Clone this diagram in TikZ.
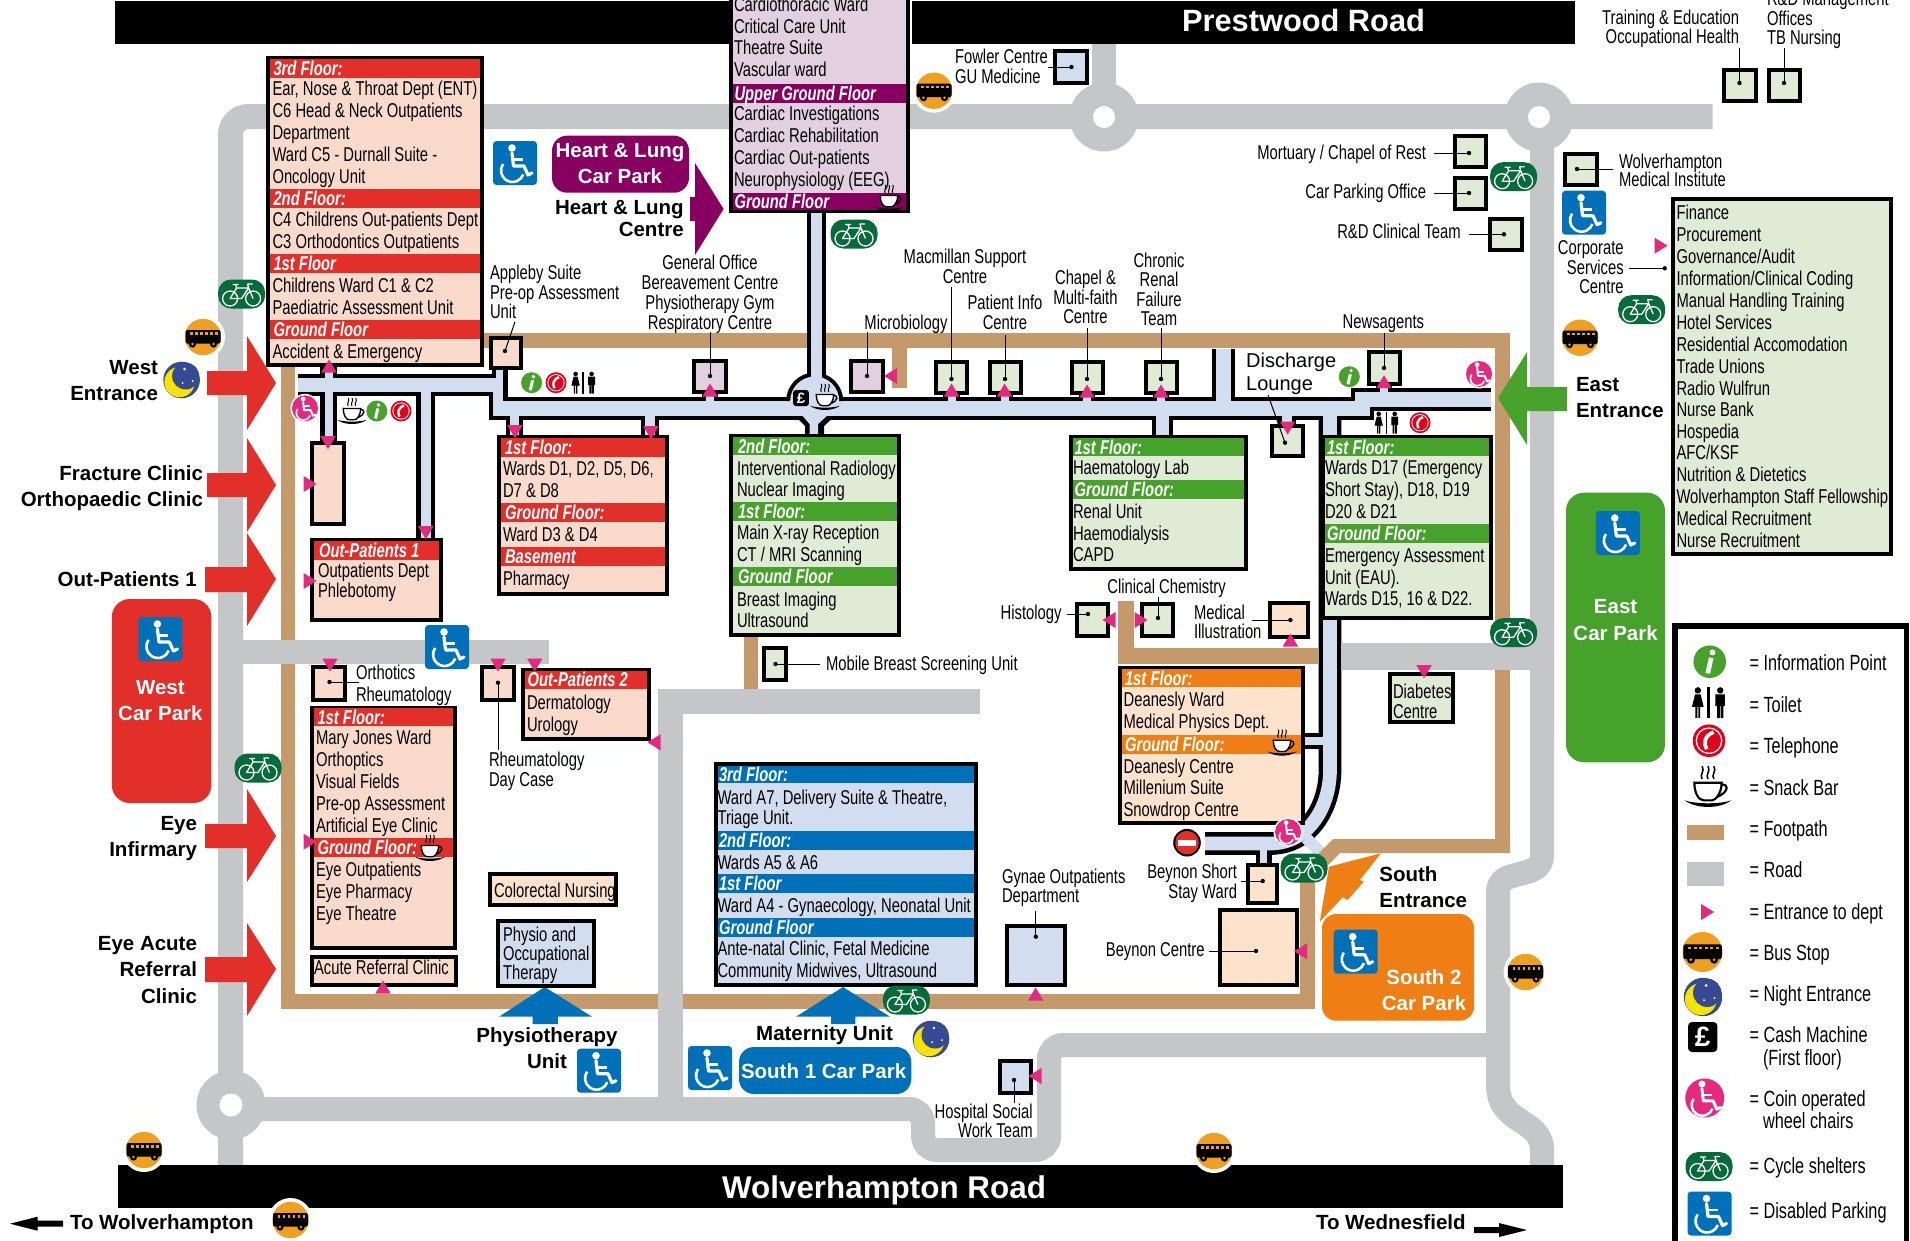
\documentclass[tikz,border=0pt]{standalone}
\usepackage{fontspec}
\setmainfont{Liberation Sans}
\newfontfamily\narrow[FakeStretch=0.74]{Liberation Sans}
\definecolor{roadc}{HTML}{C4C6C8}
\definecolor{tanc}{HTML}{C49A6C}
\definecolor{corrc}{HTML}{D2DDF0}
\definecolor{pinkbg}{HTML}{F9DACB}
\definecolor{orgbg}{HTML}{FEE3CC}
\definecolor{grnbg}{HTML}{E0EBD5}
\definecolor{purbg}{HTML}{E2CFE0}
\definecolor{redc}{HTML}{E32F2A}
\definecolor{grnc}{HTML}{46A22B}
\definecolor{purc}{HTML}{870060}
\definecolor{bluc}{HTML}{0071B9}
\definecolor{orgc}{HTML}{EF7F14}
\definecolor{bikec}{HTML}{056B38}
\definecolor{busc}{HTML}{F0A020}
\definecolor{magc}{HTML}{E5297F}
\definecolor{moonc}{HTML}{364A94}
\definecolor{moony}{HTML}{F7E300}
\definecolor{phonec}{HTML}{E3001B}
\newcounter{nd}
\tikzset{
 txt/.style={inner sep=0pt,outer sep=0pt,font=\narrow\fontsize{20}{22}\selectfont},
 legtxt/.style={inner sep=0pt,outer sep=0pt,font=\narrow\fontsize{22}{24}\selectfont},
 bandtxt/.style={inner sep=0pt,outer sep=0pt,text=white,font=\narrow\bfseries\itshape\fontsize{20}{22}\selectfont},
 boldtxt/.style={inner sep=0pt,outer sep=0pt,font=\bfseries\fontsize{20.5}{23}\selectfont},
 leaderline/.style={black,line width=1pt},
 trik/.style={fill=magc,draw=none}
}
% text helpers: anchor, x, y of line centre, text
\newcommand{\lb}[4]{\stepcounter{nd}\node[txt,anchor=#1] (n\arabic{nd}) at (#2,{#3+6.6}) {#4};}
\newcommand{\lgn}[3]{\stepcounter{nd}\node[legtxt,anchor=base west] (n\arabic{nd}) at (#1,{#2+7.5}) {#3};}
\newcommand{\bb}[5][black]{\stepcounter{nd}\node[boldtxt,text=#1,anchor=#2] (n\arabic{nd}) at (#3,{#4+7.4}) {#5};}
% department box: x1 y1 x2 y2 fill
\newcommand{\dept}[5]{\def\bxa{#1}\def\bxb{#3}\draw[black,line width=4pt,fill=#5] ({#1+2},{#2+2}) rectangle ({#3-2},{#4-2});}
% band: y1 y2 colour textx text
\newcommand{\band}[5]{\fill[#3] ({\bxa+4},#1) rectangle ({\bxb-4},#2);\stepcounter{nd}\node[bandtxt,anchor=base west] (n\arabic{nd}) at (#4,{(#1+#2)/2+7}) {#5};}
% small box with leader: name x1 y1 x2 y2 fill dotx doty endx endy
\newcommand{\smb}[5]{\draw[black,line width=4pt,fill=#5] ({#1+2},{#2+2}) rectangle ({#3-2},{#4-2});}
\newcommand{\ldr}[5]{\coordinate (#1-d) at (#2,#3);\coordinate (#1-e) at (#4,#5);\draw[leaderline] (#1-d) -- (#1-e);\fill[black] (#1-d) circle[radius=2.2];}
% triangles
\newcommand{\tup}[2]{\fill[trik] ({#1-7.7},{#2+6.5}) -- ({#1+7.7},{#2+6.5}) -- (#1,{#2-6.5}) -- cycle;}
\newcommand{\tdn}[2]{\fill[trik] ({#1-7.7},{#2-6.5}) -- ({#1+7.7},{#2-6.5}) -- (#1,{#2+6.5}) -- cycle;}
\newcommand{\trt}[2]{\fill[trik] ({#1-6.5},{#2-8}) -- ({#1-6.5},{#2+8}) -- ({#1+6.5},#2) -- cycle;}
\newcommand{\tlf}[2]{\fill[trik] ({#1+6.5},{#2-8}) -- ({#1+6.5},{#2+8}) -- ({#1-6.5},#2) -- cycle;}
% wheelchair glyph x y s colour
\newcommand{\wcg}[4]{\begin{scope}[shift={(#1,#2)},scale=#3]
 \fill[#4] (-3,-15) circle[radius=3.8];
 \draw[#4,line width=#3*3.2pt,line join=round,line cap=round] (-3,-10) -- (-1.5,3) -- (9,3) -- (13,12) -- (17,10);
 \draw[#4,line width=#3*2.6pt] (-2,-3.5) -- (8,-3.5);
 \draw[#4,line width=#3*2.6pt] (-2.5,7.5) ++(215:11.5) arc[start angle=215,end angle=20,radius=11.5];
\end{scope}}
\newcommand{\icwc}[3]{\begin{scope}[shift={(#1,#2)},scale=#3]
 \fill[bluc,rounded corners=#3*3.5pt] (-22,-22) rectangle (22,22);
\end{scope}\wcg{#1}{#2}{#3}{white}}
\newcommand{\iccoin}[3]{\begin{scope}[shift={(#1,#2)},scale=#3]
 \fill[white] (0,0) circle[radius=14.5];\fill[magc] (0,0) circle[radius=13];
\end{scope}\wcg{#1}{#2}{#3*0.62}{white}}
\newcommand{\icbike}[3]{\begin{scope}[shift={(#1,#2)},scale=#3]
 \fill[bikec,rounded corners=#3*13pt] (-23.5,-14.5) rectangle (23.5,14.5);
 \draw[white,line width=#3*1.3pt] (-11.5,4.5) circle[radius=7.5] (11.5,4.5) circle[radius=7.5];
 \draw[white,line width=#3*1.3pt,line join=round] (-11.5,4.5) -- (-5,-6) -- (7,-6) -- (0,4.5) -- cycle (7,-6) -- (11.5,4.5) (-5,-6) -- (-6,-9.5) (-9,-9.5) -- (-3,-9.5) (7,-6) -- (6,-10) -- (11,-10);
\end{scope}}
\newcommand{\icbus}[3]{\begin{scope}[shift={(#1,#2)},scale=#3]
 \fill[white] (0,0) circle[radius=22];
 \fill[busc] (0,0) circle[radius=18.2];
 \fill[black,rounded corners=#3*2pt] (-17.5,-7) rectangle (17.5,6.5);
 \foreach \wx in {-13,-8,-3,2,7,12}{\fill[busc] (\wx,-5) rectangle ++(2.8,2.6);}
 \fill[black] (-10.5,7) circle[radius=3.6] (10.5,7) circle[radius=3.6];
 \fill[busc] (-10.5,7) circle[radius=1.4] (10.5,7) circle[radius=1.4];
\end{scope}}
\newcommand{\icmoon}[3]{\begin{scope}[shift={(#1,#2)},scale=#3]
 \fill[moonc] (0,0) circle[radius=18.3];
 \fill[moony] (-2,2) circle[radius=15.2];
 \fill[moonc] (4,-4) circle[radius=13.5];
 \fill[white] (3,-11) circle[radius=1.4] (1,3) circle[radius=1] (11,1) circle[radius=1];
\end{scope}}
\newcommand{\icinfo}[3]{\begin{scope}[shift={(#1,#2)},scale=#3]
 \fill[grnc] (0,0) circle[radius=10.5];
 \fill[white] (1.8,-6) circle[radius=1.9];
 \draw[white,line width=#3*3pt] (1,-2.5) -- (-1.3,7.5);
\end{scope}}
\newcommand{\icphone}[3]{\begin{scope}[shift={(#1,#2)},scale=#3]
 \fill[phonec] (0,0) circle[radius=10.5];
 \draw[white,line width=#3*.8pt] (0,0) circle[radius=8.2];
 \draw[white,line width=#3*2.4pt] (3,-5.5) .. controls (-3.5,-3) and (-3.5,2) .. (-1.5,5.5);
\end{scope}}
\newcommand{\ictoilet}[3]{\begin{scope}[shift={(#1,#2)},scale=#3]
 \fill[black] (-8,-8.8) circle[radius=2.3] (8,-8.8) circle[radius=2.3];
 \fill[black] (-10,-6) -- (-6,-6) -- (-3.8,3) -- (-6.3,3) -- (-6.3,11) -- (-7.6,11) -- (-7.6,3) -- (-8.4,3) -- (-8.4,11) -- (-9.7,11) -- (-9.7,3) -- (-12.2,3) -- cycle;
 \fill[black] (4.6,-6) rectangle (11.4,2.5) (5.8,2) rectangle (7.7,11) (8.3,2) rectangle (10.2,11);
 \fill[black] (-1.2,-11) rectangle (0.4,11);
\end{scope}}
\newcommand{\iccup}[3]{\begin{scope}[shift={(#1,#2)},scale=#3]
 \fill[black] (-12,7) .. controls (-6,11.5) and (6,11.5) .. (12,7) .. controls (6,9) and (-6,9) .. cycle;
 \draw[black,line width=#3*1.1pt] (6,-1) .. controls (11,-2) and (11,3) .. (4,5.5);
 \draw[black,fill=white,line width=#3*1.1pt] (-7,-2) -- (7,-2) .. controls (7,3) and (4,7) .. (2,7) -- (-2,7) .. controls (-5,7) and (-7,3) .. cycle;
 \foreach \sx in {-3,0,3}{\draw[black,line width=#3*.8pt] (\sx,-4) .. controls ({\sx-1.6},-6) and ({\sx+1.6},-8) .. (\sx,-10.5);}
\end{scope}}
\begin{document}
\begin{tikzpicture}[x=1pt,y=-1pt]
\path[use as bounding box,fill=white] (0,0) rectangle (1910,1240);
\clip (0,0) rectangle (1910,1240);
% ---------- corridors
\newcommand{\corrlist}{%
 \crk{297.6}{378}{503.3}{392}\crk{324.5}{366}{332.6}{378}\crk{324.5}{392}{332.6}{443}%
 \crk{420.5}{392}{430.6}{539}\crk{496}{368}{503.3}{378}\crk{492.7}{378}{503.3}{415}%
 \crk{492.7}{400.7}{1370}{416}\crk{510}{415}{519}{437}\crk{645}{415}{655}{437}%
 \crk{1156.4}{415}{1168.8}{437}\crk{1216}{349}{1231}{402}%
 \crk{1355}{391.7}{1370}{416}\crk{1355}{391.7}{1491}{406.7}%
 \crk{706}{392}{714}{402}\crk{947.5}{392}{955.5}{402}\crk{1000.6}{392}{1008.6}{402}%
 \crk{1083}{392}{1091}{402}\crk{1157}{392}{1165}{402}\crk{1380}{384}{1388}{393}%
 \crk{1282}{415}{1292}{425}\crk{1305}{737}{1323}{745}\crk{1260}{850}{1267.3}{864}%
}
\newcommand{\curvepath}{(1330,416) -- (1330,770) .. controls (1330,805) and (1310,843.5) .. (1270,843.5) -- (1205,843.5)}
\newcommand{\crk}[4]{\fill[black] ({#1-4.2},{#2-4.2}) rectangle ({#3+4.2},{#4+4.2});}
\corrlist
\draw[black,line width=22.7pt] \curvepath;
\renewcommand{\crk}[4]{\fill[corrc] (#1,#2) rectangle (#3,#4);}
\corrlist
\draw[corrc,line width=13.7pt] \curvepath;
\draw[corrc,line width=12pt] (1306,838) -- (1322,854);
% open ends
\fill[white] (292,370) rectangle (297.6,400);
\fill[white] (1491,380) rectangle (1497,415);
\fill[white] (1205,343) rectangle (1240,349);
% ---------- footpaths
\fill[tanc] (281,333) rectangle (1510,348);
\fill[tanc] (281,333) rectangle (295,1009);
\fill[tanc] (1495,333) rectangle (1510,853);
\fill[tanc] (281,994) rectangle (1315,1009);
\fill[tanc] (1510,839) -- (1333,839) -- (1300,872) -- (1300,1000) -- (1315,1000) -- (1315,878) -- (1340,853) -- (1510,853) -- cycle;
\fill[tanc] (892,348) rectangle (906.5,388);
\fill[tanc] (744,630) rectangle (758,689);
\fill[tanc] (1118,601) rectangle (1133.5,664);
\fill[tanc] (1118,648) rectangle (1318,664);
% ---------- roads
\draw[roadc,line width=25pt,rounded corners=18pt] (230.5,1170) -- (230.5,116.5) -- (1712.5,116.5);
\fill[roadc] (1092,40) rectangle (1116,105);
\draw[roadc,line width=24pt] (1542,110) -- (1542,855) .. controls (1542,882) and (1498,866) .. (1498,892) -- (1498,1085) .. controls (1498,1125) and (1542,1118) .. (1542,1150) -- (1542,1170);
\draw[roadc,line width=24pt,rounded corners=14pt] (1498,1045) -- (1049,1045) -- (1049,1150) -- (923,1150) -- (923,1109) -- (231,1109);
\fill[roadc] (243,640) rectangle (549,664);
\fill[roadc] (658,689) rectangle (979.6,714);
\fill[roadc] (658,689) rectangle (682.5,1100);
\fill[roadc] (1341,643) rectangle (1535,670);
\fill[roadc] (1104,117) circle[radius=34.5] (1539,117) circle[radius=34.5] (231,1105) circle[radius=34.5];
\fill[white] (1104,117) circle[radius=11] (1539,117) circle[radius=11] (231,1105) circle[radius=11.5];
% ---------- heart corridor
\fill[black] (806.5,205) rectangle (825.6,380);
\fill[black] (786.2,401) arc[start angle=180,end angle=360,radius=28.5] -- cycle;
\fill[black] (795,416) -- (805,426) -- (805,436) -- (824,436) -- (824,426) -- (835,416) -- cycle;
\fill[corrc] (810.5,205) rectangle (821.6,385);
\fill[corrc] (790.2,401) arc[start angle=180,end angle=360,radius=24.5] -- cycle;
\fill[corrc] (790.2,400) rectangle (839,416);
\fill[corrc] (801,414) -- (809.5,424) -- (809.5,436) -- (818,436) -- (818,424) -- (829,414) -- cycle;
% ---------- road bars
\fill[black] (115,1) rectangle (1575,44);
\fill[black] (118,1165) rectangle (1563,1208);
\node[inner sep=0pt,text=white,font=\bfseries\fontsize{30.8}{32}\selectfont,anchor=base] (prestwood) at (1303.5,31) {Prestwood Road};
\node[inner sep=0pt,text=white,font=\bfseries\fontsize{31.4}{34}\selectfont,anchor=base] (wolvroad) at (884,1198) {Wolverhampton Road};
% ---------- big arrows
\fill[redc] (207,371) -- (247,371) -- (247,336) -- (276,383) -- (247,430) -- (247,395) -- (207,395) -- cycle;
\fill[redc] (207,473) -- (247,473) -- (247,438) -- (276,485) -- (247,532) -- (247,497) -- (207,497) -- cycle;
\fill[redc] (205,567) -- (247,567) -- (247,533) -- (276,579) -- (247,626) -- (247,592) -- (205,592) -- cycle;
\fill[redc] (205,824) -- (247,824) -- (247,789) -- (276,836) -- (247,882) -- (247,848) -- (205,848) -- cycle;
\fill[redc] (205,957) -- (247,957) -- (247,923) -- (276,969) -- (247,1016) -- (247,982) -- (205,982) -- cycle;
\fill[purc] (690,197) -- (695,197) -- (695,163) -- (723.6,209) -- (695,255) -- (695,221) -- (690,221) -- cycle;
\fill[grnc] (1567,387) -- (1527,387) -- (1527,352) -- (1498,398) -- (1527,445) -- (1527,411) -- (1567,411) -- cycle;
\fill[bluc] (544.7,987) -- (592,1016.7) -- (557.8,1016.7) -- (557.8,1024) -- (532.6,1024) -- (532.6,1016.7) -- (499,1016.7) -- cycle;
\fill[bluc] (843,987) -- (890,1016.7) -- (855.4,1016.7) -- (855.4,1024) -- (831,1024) -- (831,1016.7) -- (796,1016.7) -- cycle;
\fill[orgc] (1381,853.3) -- (1329,866.7) -- (1319.8,921.7) -- (1342.6,897.3) -- (1347.5,900) -- (1363.8,881.7) -- (1359.8,880) -- cycle;
% ---------- car parks
\fill[redc,rounded corners=18pt] (111.8,599) rectangle (211.4,803);
\fill[grnc,rounded corners=18pt] (1566,492.7) rectangle (1665,762.3);
\fill[purc,rounded corners=15pt] (552,135.7) rectangle (689,192.7);
\fill[bluc,rounded corners=15pt] (739,1047) rectangle (911.3,1094);
\fill[orgc,rounded corners=14pt] (1322,914) rectangle (1474,1020.7);
\bb[white]{base}{160.4}{686.7}{West}
\bb[white]{base}{160.4}{712.7}{Car Park}
\bb[white]{base}{1615.6}{605.7}{East}
\bb[white]{base}{1615.6}{632.7}{Car Park}
\bb[white]{base}{620}{150}{Heart \& Lung}
\bb[white]{base}{620}{175.7}{Car Park}
\bb[white]{base}{823.6}{1070.7}{South 1 Car Park}
\bb[white]{base}{1424}{976.7}{South 2}
\bb[white]{base}{1424}{1002.7}{Car Park}
% ---------- A&E box
\dept{266}{56}{484}{367}{pinkbg}
\band{59}{78}{redc}{273.5}{3rd Floor:}
\lb{base west}{272.5}{89}{Ear, Nose \& Throat Dept (ENT)}
\lb{base west}{272.5}{111}{C6 Head \& Neck Outpatients}
\lb{base west}{272.5}{133}{Department}
\lb{base west}{272.5}{155}{Ward C5 - Durnall Suite -}
\lb{base west}{272.5}{177}{Oncology Unit}
\band{189}{207.7}{redc}{273.5}{2nd Floor:}
\lb{base west}{272.5}{220}{C4 Childrens Out-patients Dept}
\lb{base west}{272.5}{242}{C3 Orthodontics Outpatients}
\band{254}{273}{redc}{273.5}{1st Floor}
\lb{base west}{272.5}{286}{Childrens Ward C1 \& C2}
\lb{base west}{272.5}{308}{Paediatric Assessment Unit}
\band{320}{339}{redc}{273.5}{Ground Floor}
\lb{base west}{272.5}{352}{Accident \& Emergency}
% ---------- Heart box
\fill[white] (908,-3) rectangle (912,46);
\dept{729}{-6}{910}{212.7}{purbg}
\lb{base west}{734}{5}{Cardiothoracic Ward}
\lb{base west}{734}{26.7}{Critical Care Unit}
\lb{base west}{734}{48}{Theatre Suite}
\lb{base west}{734}{70}{Vascular ward}
\band{84}{102.7}{purc}{734.5}{Upper Ground Floor}
\lb{base west}{734}{113.7}{Cardiac Investigations}
\lb{base west}{734}{135.7}{Cardiac Rehabilitation}
\lb{base west}{734}{157.7}{Cardiac Out-patients}
\lb{base west}{734}{179.7}{Neurophysiology (EEG)}
\band{192.7}{209.5}{purc}{734.5}{Ground Floor}
\iccup{889}{198}{1.25}
% ---------- Ward D
\dept{496.7}{435}{669.4}{595.7}{pinkbg}
\band{438}{456.7}{redc}{505}{1st Floor:}
\lb{base west}{503}{469}{Wards D1, D2, D5, D6,}
\lb{base west}{503}{491}{D7 \& D8}
\band{503}{522}{redc}{505}{Ground Floor:}
\lb{base west}{503}{534.7}{Ward D3 \& D4}
\band{547}{566}{redc}{505}{Basement}
\lb{base west}{503}{578.7}{Pharmacy}
% ---------- tall box, outpatients
\dept{310}{441}{345.7}{525.7}{pinkbg}
\dept{310}{537.7}{443}{622}{pinkbg}
\band{540.7}{560}{redc}{319}{Out-Patients 1}
\lb{base west}{318}{570.7}{Outpatients Dept}
\lb{base west}{318}{590.7}{Phlebotomy}
% ---------- Outpatients 2
\dept{521}{668}{651}{740.7}{pinkbg}
\band{670.7}{689}{redc}{527.6}{Out-Patients 2}
\lb{base west}{527}{702.7}{Dermatology}
\lb{base west}{527}{724.7}{Urology}
% ---------- Eye box
\dept{309.5}{706}{457}{950}{pinkbg}
\band{708}{726}{redc}{317.5}{1st Floor:}
\lb{base west}{316}{738}{Mary Jones Ward}
\lb{base west}{316}{760}{Orthoptics}
\lb{base west}{316}{782}{Visual Fields}
\lb{base west}{316}{804}{Pre-op Assessment}
\lb{base west}{316}{826}{Artificial Eye Clinic}
\band{838}{857}{redc}{317.5}{Ground Floor:}
\iccup{430}{848}{1.25}
\lb{base west}{316}{870}{Eye Outpatients}
\lb{base west}{316}{892}{Eye Pharmacy}
\lb{base west}{316}{914}{Eye Theatre}
\dept{309.5}{955}{458}{987}{pinkbg}
\lb{base west}{314}{968}{Acute Referral Clinic}
\dept{488}{872}{617.5}{907}{orgbg}
\lb{base west}{494}{890.7}{Colorectal Nursing}
\dept{496}{919}{596}{988}{corrc}
\lb{base west}{503}{935}{Physio and}
\lb{base west}{503}{954}{Occupational}
\lb{base west}{503}{973}{Therapy}
% ---------- Green middle
\dept{729}{434}{901}{636.7}{grnbg}
\band{437}{455}{grnc}{738}{2nd Floor:}
\lb{base west}{737}{468.7}{Interventional Radiology}
\lb{base west}{737}{490}{Nuclear Imaging}
\band{502}{521}{grnc}{738}{1st Floor:}
\lb{base west}{737}{533}{Main X-ray Reception}
\lb{base west}{737}{555}{CT / MRI Scanning}
\band{567}{586}{grnc}{738}{Ground Floor}
\lb{base west}{737}{599.7}{Breast Imaging}
\lb{base west}{737}{621}{Ultrasound}
% ---------- Haematology
\dept{1068.6}{435}{1248}{570.7}{grnbg}
\band{438}{456}{grnc}{1074.5}{1st Floor:}
\lb{base west}{1073}{468}{Haematology Lab}
\band{480}{499}{grnc}{1074.5}{Ground Floor:}
\lb{base west}{1073}{511.7}{Renal Unit}
\lb{base west}{1073}{533.7}{Haemodialysis}
\lb{base west}{1073}{555}{CAPD}
% ---------- D17
\dept{1321}{435}{1493}{620}{grnbg}
\band{438}{456}{grnc}{1327}{1st Floor:}
\lb{base west}{1325}{468}{Wards D17 (Emergency}
\lb{base west}{1325}{490}{Short Stay), D18, D19}
\lb{base west}{1325}{512}{D20 \& D21}
\band{524}{543}{grnc}{1327}{Ground Floor:}
\lb{base west}{1325}{555.7}{Emergency Assessment}
\lb{base west}{1325}{577.7}{Unit (EAU).}
\lb{base west}{1325}{599}{Wards D15, 16 \& D22.}
% ---------- Deanesly
\dept{1117.6}{666}{1305}{825}{orgbg}
\band{669.3}{687}{orgc}{1125}{1st Floor:}
\lb{base west}{1123.6}{700}{Deanesly Ward}
\lb{base west}{1123.6}{722}{Medical Physics Dept.}
\band{735}{754}{orgc}{1125}{Ground Floor:}
\iccup{1282}{742.7}{1.25}
\lb{base west}{1123.6}{766.7}{Deanesly Centre}
\lb{base west}{1123.6}{788}{Millenium Suite}
\lb{base west}{1123.6}{810}{Snowdrop Centre}
% ---------- Maternity
\dept{713.5}{762}{978}{986.7}{corrc}
\band{765.7}{782.7}{bluc}{719}{3rd Floor:}
\lb{base west}{717.5}{797.7}{Ward A7, Delivery Suite \& Theatre,}
\lb{base west}{717.5}{818}{Triage Unit.}
\band{831}{850}{bluc}{719}{2nd Floor:}
\lb{base west}{717.5}{862.7}{Wards A5 \& A6}
\band{874}{893}{bluc}{719}{1st Floor}
\lb{base west}{717.5}{906}{Ward A4 - Gynaecology, Neonatal Unit}
\band{918}{937}{bluc}{719}{Ground Floor}
\lb{base west}{717.5}{949}{Ante-natal Clinic, Fetal Medicine}
\lb{base west}{717.5}{971}{Community Midwives, Ultrasound}
% ---------- Corporate
\dept{1671}{197}{1893}{556}{grnbg}
\lb{base west}{1676.5}{213}{Finance}
\lb{base west}{1676.5}{235}{Procurement}
\lb{base west}{1676.5}{257}{Governance/Audit}
\lb{base west}{1676.5}{279}{Information/Clinical Coding}
\lb{base west}{1676.5}{301}{Manual Handling Training}
\lb{base west}{1676.5}{322.7}{Hotel Services}
\lb{base west}{1676.5}{344.7}{Residential Accomodation}
\lb{base west}{1676.5}{366.7}{Trade Unions}
\lb{base west}{1676.5}{388.7}{Radio Wulfrun}
\lb{base west}{1676.5}{410}{Nurse Bank}
\lb{base west}{1676.5}{431.7}{Hospedia}
\lb{base west}{1676.5}{453}{AFC/KSF}
\lb{base west}{1676.5}{475}{Nutrition \& Dietetics}
\lb{base west}{1676.5}{497}{Wolverhampton Staff Fellowship}
\lb{base west}{1676.5}{519}{Medical Recruitment}
\lb{base west}{1676.5}{541}{Nurse Recruitment}
\lb{base east}{1623.7}{248.3}{Corporate}
\lb{base east}{1623.7}{267.7}{Services}
\lb{base east}{1623.7}{287.3}{Centre}
\ldr{corp}{1664.7}{268.3}{1629}{268.3}
% ---------- small boxes
\smb{489}{336}{522.6}{370}{pinkbg}
\ldr{appleby}{505}{351}{515}{321.7}
\lb{base west}{490}{272.7}{Appleby Suite}
\lb{base west}{490}{293}{Pre-op Assessment}
\lb{base west}{490}{312}{Unit}
\smb{1053.3}{49}{1089}{85}{corrc}
\ldr{fowler}{1071.5}{67}{1048}{67}
\lb{base west}{955}{57.3}{Fowler Centre}
\lb{base west}{955}{77}{GU Medicine}
\smb{692}{359}{728}{394}{purbg}
\ldr{genoff}{710}{376}{710}{332}
\lb{base}{710}{263}{General Office}
\lb{base}{710}{283}{Bereavement Centre}
\lb{base}{710}{302.7}{Physiotherapy Gym}
\lb{base}{710}{322.7}{Respiratory Centre}
\smb{849}{359}{885}{394}{purbg}
\ldr{micro}{867}{376}{867}{332}
\lb{base}{906}{322.7}{Microbiology}
\smb{934}{360}{969}{395}{grnbg}
\ldr{macm}{951.5}{379}{951.5}{286.7}
\lb{base}{965}{256.7}{Macmillan Support}
\lb{base}{965}{276.7}{Centre}
\smb{988}{360}{1023}{395}{grnbg}
\ldr{patinfo}{1005}{379}{1005}{335}
\lb{base}{1005}{303}{Patient Info}
\lb{base}{1005}{322.7}{Centre}
\smb{1069.6}{360}{1105}{395}{grnbg}
\ldr{chapel}{1087}{379}{1087}{328}
\lb{base}{1085.5}{277.7}{Chapel \&}
\lb{base}{1085.5}{297.7}{Multi-faith}
\lb{base}{1085.5}{317}{Centre}
\smb{1143.5}{360}{1178.6}{395}{grnbg}
\ldr{renal}{1161}{379}{1161}{328}
\lb{base}{1159}{261}{Chronic}
\lb{base}{1159}{280}{Renal}
\lb{base}{1159}{299.7}{Failure}
\lb{base}{1159}{319}{Team}
\smb{1366.7}{350}{1401.7}{385.7}{grnbg}
\ldr{news}{1384}{368}{1384}{333}
\lb{base}{1383.4}{321.7}{Newsagents}
\smb{1453}{134}{1488}{169}{grnbg}
\ldr{mort}{1469}{153}{1434}{153}
\lb{base east}{1426}{153}{Mortuary / Chapel of Rest}
\smb{1453}{175.7}{1488}{210.7}{grnbg}
\ldr{carp}{1469}{193}{1434}{193}
\lb{base east}{1426}{192}{Car Parking Office}
\smb{1488}{216.7}{1523.5}{251.7}{grnbg}
\ldr{rdc}{1504}{234.3}{1469}{234.3}
\lb{base east}{1460.6}{232}{R\&D Clinical Team}
\smb{1722}{68}{1757.6}{103}{grnbg}
\ldr{train}{1739.5}{83}{1739.5}{47.7}
\lb{base east}{1739}{18.3}{Training \& Education}
\lb{base east}{1739}{37.3}{Occupational Health}
\smb{1766.7}{68}{1802}{103}{grnbg}
\ldr{rdm}{1784}{83}{1784}{47.7}
\lb{base west}{1767}{-1}{R\&D Management}
\lb{base west}{1767}{19.3}{Offices}
\lb{base west}{1767}{38.3}{TB Nursing}
\smb{1563}{151.7}{1598.6}{186.7}{grnbg}
\ldr{wmi}{1577}{169}{1613}{169}
\lb{base west}{1619}{161.7}{Wolverhampton}
\lb{base west}{1619}{180}{Medical Institute}
\smb{1270}{424}{1305}{458}{grnbg}
\ldr{disch}{1285}{442.7}{1268}{395}
\node[inner sep=0pt,anchor=base west,font=\fontsize{20}{22}\selectfont] (dischtxt) at (1246,367) {Discharge};
\node[inner sep=0pt,anchor=base west,font=\fontsize{20}{22}\selectfont] (loungetxt) at (1246,390) {Lounge};
\smb{1075}{602}{1110}{637.7}{grnbg}
\ldr{hist}{1088}{614}{1066.6}{614}
\lb{base east}{1061.6}{612.7}{Histology}
\smb{1140}{602}{1174.5}{637.7}{grnbg}
\ldr{chem}{1158}{618}{1158}{596.7}
\lb{base}{1166.6}{586.7}{Clinical Chemistry}
\smb{1267.8}{601}{1310}{639}{orgbg}
\ldr{medill}{1290.4}{620}{1252}{620}
\lb{base west}{1194}{613}{Medical}
\lb{base west}{1194}{632}{Illustration}
\smb{762.4}{646}{787.7}{681.7}{grnbg}
\ldr{mobile}{775.5}{664}{819.5}{664}
\lb{base west}{826}{664}{Mobile Breast Screening Unit}
\smb{1388}{672}{1454.5}{724}{grnbg}
\lb{base west}{1393}{691.7}{Diabetes}
\lb{base west}{1393}{711.7}{Centre}
\smb{1004.5}{924}{1067}{986.7}{corrc}
\ldr{gynae}{1035.8}{936.7}{1035.8}{911}
\lb{base west}{1002}{876.7}{Gynae Outpatients}
\lb{base west}{1002}{895.7}{Department}
\smb{1245.6}{863}{1279}{905}{orgbg}
\ldr{beys}{1262.7}{881}{1240.8}{881}
\lb{base east}{1237}{872.3}{Beynon Short}
\lb{base east}{1237}{891.7}{Stay Ward}
\smb{1218}{908}{1298.6}{987}{orgbg}
\ldr{beyc}{1256}{951}{1208.6}{951}
\lb{base east}{1204.6}{950}{Beynon Centre}
\smb{998}{1059}{1033}{1095}{corrc}
\ldr{hosp}{1014}{1080}{1014}{1102.7}
\lb{base east}{1032.6}{1111.7}{Hospital Social}
\lb{base east}{1032.6}{1130.7}{Work Team}
\smb{311}{665}{347}{701.7}{pinkbg}
\ldr{orth}{329.5}{682}{359}{682}
\lb{base west}{356}{672.7}{Orthotics}
\lb{base west}{356}{695}{Rheumatology}
\smb{480}{665}{515.5}{701.7}{pinkbg}
\ldr{rheum}{498}{682.7}{498}{750}
\lb{base west}{489}{760}{Rheumatology}
\lb{base west}{489}{780}{Day Case}
% ---------- bold labels
\bb{base east}{158}{366.7}{West}
\bb{base east}{158}{392.7}{Entrance}
\bb{base east}{203}{472.7}{Fracture Clinic}
\bb{base east}{203}{499}{Orthopaedic Clinic}
\bb{base east}{196.7}{579}{Out-Patients 1}
\bb{base east}{197}{822.7}{Eye}
\bb{base east}{197}{849}{Infirmary}
\bb{base east}{197}{943}{Eye Acute}
\bb{base east}{197}{969}{Referral}
\bb{base east}{197}{995.7}{Clinic}
\bb{base east}{683.7}{207.3}{Heart \& Lung}
\bb{base east}{683.7}{229.3}{Centre}
\bb{base}{547}{1035}{Physiotherapy}
\bb{base}{547}{1061}{Unit}
\bb{base}{824.5}{1033}{Maternity Unit}
\bb{base west}{1576}{384}{East}
\bb{base west}{1576}{410}{Entrance}
\bb{base west}{1379.4}{874}{South}
\bb{base west}{1379.4}{900}{Entrance}
\bb{base west}{70}{1221.7}{To Wolverhampton}
\bb{base west}{1316}{1221.7}{To Wednesfield}
\fill[black] (10,1223.7) -- (37.5,1216.7) -- (37.5,1220.7) -- (63,1220.7) -- (63,1226.7) -- (37.5,1226.7) -- (37.5,1230.7) -- cycle;
\fill[black] (1527,1230) -- (1499,1223) -- (1499,1227) -- (1474,1227) -- (1474,1233) -- (1499,1233) -- (1499,1237) -- cycle;
% ---------- triangles
\tup{329}{366}\tup{710}{390}\tup{951.5}{390}\tup{1004.6}{390}\tup{1087}{391}\tup{1161}{391}\tup{1384}{381.7}
\tlf{890.5}{376}
\tdn{328}{442.7}\tdn{425.8}{532.7}\tdn{515}{431.7}\tdn{651}{432.7}
\trt{310}{484}\trt{310}{581}\trt{310}{841.7}
\tdn{330}{665}\tdn{498}{665}\tdn{534.7}{665}
\tlf{654}{742.3}\tlf{1109}{620}\trt{1141}{620}
\tup{1290.4}{640}\tdn{1287.6}{428}\tdn{1424}{671.7}
\tup{383}{987}\tup{1035.6}{994}\tlf{1035}{1076}\tlf{1300.6}{951.3}\trt{1661}{245.7}
% ---------- icons
\icbike{241.6}{294}{1}\icbike{854}{234}{1}\icbike{1513.6}{176.7}{1}\icbike{1641.7}{309.7}{1}
\icbike{1513.6}{632.7}{1}\icbike{258}{768}{1}\icbike{906.4}{1000}{1}\icbike{1304}{868}{1}
\icwc{515}{163}{1}\icwc{447}{647}{1}\icwc{160.4}{639}{1}\icwc{1584}{212.7}{1}
\icwc{1617.8}{533}{1}\icwc{599}{1070.7}{1}\icwc{710}{1068}{1}\icwc{1355.7}{951.7}{1}
\icbus{203}{337}{1}\icbus{934}{90.7}{1}\icbus{1580}{337.7}{1}\icbus{144}{1150}{1}
\icbus{290.5}{1220}{1}\icbus{1214}{1151}{1}\icbus{1525.6}{972}{1}
\icmoon{181.6}{380}{1}\icmoon{931}{1039}{1}
\icinfo{531.6}{382.7}{1}\icinfo{376.8}{411}{1}\icinfo{1349.3}{376.7}{1}
\icphone{556}{382.7}{1}\icphone{401}{411}{1}\icphone{1420}{422.7}{1}
\ictoilet{583.6}{382.7}{1}\ictoilet{1386.7}{422.7}{1}
\iccup{352}{411}{1.25}\iccup{825}{397}{1.25}
\fill[black,rounded corners=2.5pt] (793.2,390) rectangle (808.8,406);
\node[inner sep=0pt,text=white,font=\bfseries\fontsize{15}{15}\selectfont] (poundsm) at (801,398) {£};
\iccoin{305}{408.3}{1}\iccoin{1479}{374}{1}\iccoin{1288}{832}{1}
\fill[white] (1187,842.7) circle[radius=16];
\fill[black] (1187,842.7) circle[radius=13.8];
\fill[redc] (1187,842.7) circle[radius=11.8];
\fill[white] (1178,839.5) rectangle (1196,846);
% ---------- legend
\draw[black,line width=5.5pt] (1675,1250) -- (1675,626) -- (1906.5,626) -- (1906.5,1250);
\icinfo{1709.7}{661.7}{1.55}
\ictoilet{1709}{702.7}{1.4}
\icphone{1709}{740.7}{1.55}
\iccup{1708}{786.7}{1.95}
\fill[tanc] (1687,825) rectangle (1724,840);
\fill[roadc] (1687,862) rectangle (1724,886);
\trt{1707.6}{912}
\icbus{1702.5}{952}{1.1}
\icmoon{1703}{997}{1.05}
\fill[black,rounded corners=4pt] (1688,1022) rectangle (1717.4,1052);
\node[inner sep=0pt,text=white,font=\bfseries\fontsize{28}{28}\selectfont] (poundlg) at (1702.7,1037) {£};
\iccoin{1704.7}{1098}{1.5}
\icbike{1709}{1166.5}{1}
\icwc{1709.5}{1213.5}{1}
\lgn{1749.5}{663}{= Information Point}
\lgn{1749.5}{705}{= Toilet}
\lgn{1749.5}{746}{= Telephone}
\lgn{1749.5}{787.7}{= Snack Bar}
\lgn{1749.5}{829}{= Footpath}
\lgn{1749.5}{870}{= Road}
\lgn{1749.5}{912}{= Entrance to dept}
\lgn{1749.5}{953}{= Bus Stop}
\lgn{1749.5}{994}{= Night Entrance}
\lgn{1749.5}{1035}{= Cash Machine}
\lgn{1763}{1058}{(First floor)}
\lgn{1749.5}{1099}{= Coin operated}
\lgn{1763}{1121}{wheel chairs}
\lgn{1749.5}{1165.7}{= Cycle shelters}
\lgn{1749.5}{1210.7}{= Disabled Parking}
\end{tikzpicture}
\end{document}
